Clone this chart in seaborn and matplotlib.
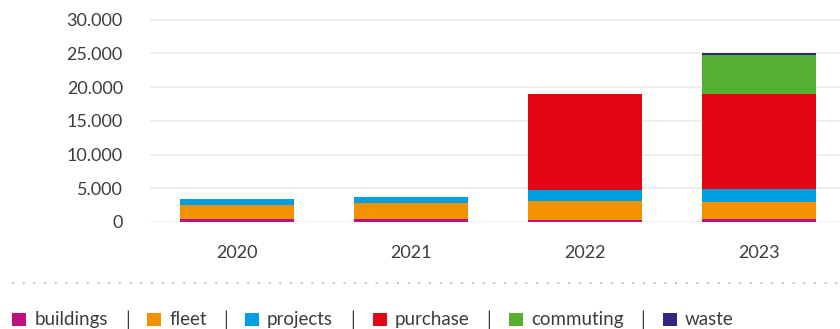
import numpy as np
import pandas as pd
import matplotlib
matplotlib.use("Agg")
import matplotlib.pyplot as plt
from matplotlib.patches import Rectangle
from matplotlib.lines import Line2D
from matplotlib.ticker import FuncFormatter, MultipleLocator
import seaborn as sns

# Emissions per year, by source (stacked bottom to top)
years = ["2020", "2021", "2022", "2023"]
categories = ["buildings", "fleet", "projects", "purchase", "commuting", "waste"]
buildings = [450, 450, 300, 450]
fleet = [2080, 2380, 2800, 2520]
projects = [890, 890, 1640, 1930]
purchase = [0, 0, 14250, 14100]
commuting = [0, 0, 0, 5800]
waste = [0, 0, 0, 300]

colors = {
    "buildings": "#BE1180",
    "fleet": "#F39200",
    "projects": "#009FE3",
    "purchase": "#E30613",
    "commuting": "#55AF31",
    "waste": "#312783",
}

series = [buildings, fleet, projects, purchase, commuting, waste]
df = pd.DataFrame({c: v for c, v in zip(categories, series)}, index=years)
cum = df.cumsum(axis=1)

sns.set_theme(style="white")
plt.rcParams["font.family"] = ["Lato", "DejaVu Sans"]
text_color = "#3d3d3d"

fig = plt.figure(figsize=(8.4, 3.29), dpi=100)
W, H = 840, 329
ax = fig.add_axes([150 / W, (H - 222) / H, 696 / W, 212 / H])

# Draw cumulative totals from the top layer down so each layer shows its own slice
for cat in categories[::-1]:
    layer = pd.DataFrame({"year": years, "value": cum[cat].values})
    sns.barplot(data=layer, x="year", y="value", color=colors[cat],
                width=0.655, linewidth=0, saturation=1, ax=ax, zorder=3)

ax.set_ylim(0, 212 / 202.5 * 30000)
ax.yaxis.set_major_locator(MultipleLocator(5000))
ax.yaxis.set_major_formatter(FuncFormatter(lambda v, _: f"{int(v):,}".replace(",", ".")))
ax.grid(axis="y", color="#ebebeb", linewidth=1.2, zorder=0)
ax.set_axisbelow(True)
ax.set_xlabel("")
ax.set_ylabel("")
for s in ax.spines.values():
    s.set_visible(False)
ax.tick_params(axis="y", length=0, pad=19.5, labelsize=13, labelcolor=text_color)
ax.tick_params(axis="x", length=0, pad=16.5, labelsize=13, labelcolor=text_color)
# keep only ticks up to 30.000
ax.set_yticks([0, 5000, 10000, 15000, 20000, 25000, 30000])

# dotted separator
fig.add_artist(Line2D([12 / W, 838 / W], [(H - 282.6) / H] * 2, transform=fig.transFigure,
                      color="#c4c4c4", linewidth=1.4, linestyle=(0, (1, 4.5))))

# legend row: colour square, label, separator
sq_x = [12, 147, 245, 373, 509, 663]
txt_x = [35, 169, 267, 395, 531, 685]
sep_x = [128, 226, 353, 489, 643]
y_mid = (H - 319.5) / H
for cat, sx, tx in zip(categories, sq_x, txt_x):
    fig.add_artist(Rectangle((sx / W, (H - 326) / H), 13.5 / W, 13.5 / H,
                             transform=fig.transFigure, facecolor=colors[cat],
                             edgecolor="none"))
    fig.text(tx / W, y_mid, cat, ha="left", va="center", fontsize=13.5, color=text_color)
for px in sep_x:
    fig.text(px / W, y_mid, "|", ha="center", va="center", fontsize=13.5, color=text_color)

fig.savefig("out.png", dpi=100)
